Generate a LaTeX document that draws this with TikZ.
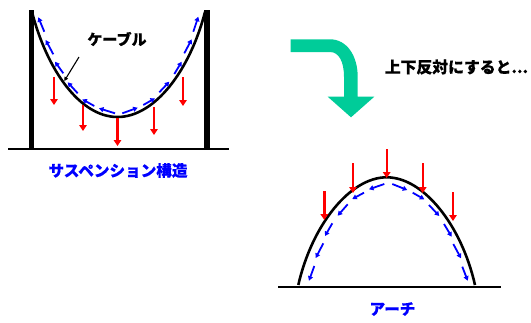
\documentclass[tikz,border=0pt]{standalone}
\usepackage{fontspec}
\usepackage{xcolor}
\usetikzlibrary{arrows.meta}
\newfontfamily\jpfont[BoldFeatures={FakeBold=0.4}]{Noto Sans CJK JP}
\definecolor{turngreen}{HTML}{00CC99}
\begin{document}
\begin{tikzpicture}[x=1pt, y=-1pt,
  cable/.style={line width=2.6pt},
  post/.style={line width=5.5pt},
  ground/.style={line width=2.8pt},
  load/.style={red, line width=2.4pt, -{Triangle[length=6pt,width=7.5pt]}},
  flow/.style={blue, line width=1.8pt, -{Triangle[length=4.5pt,width=5pt]}},
  title/.style={text=blue, font=\jpfont\bfseries\fontsize{15.6}{17}\selectfont, inner sep=0pt},
  note/.style={font=\jpfont\bfseries\fontsize{15}{17}\selectfont, inner sep=0pt}]
\useasboundingbox (0,0) rectangle (531,322);
% suspension
\draw[ground] (8,149) -- (229,149);
\draw[post] (31.5,10) -- (31.5,149);
\draw[post] (207,10) -- (207,149);
\draw[cable] (32,12) .. controls (47,70) and (80,117) .. (117.5,117) .. controls (155,117) and (190,70) .. (205,12);
\draw[load] (54,77) -- (54,105);
\draw[load] (83,105) -- (83,131);
\draw[load] (117.5,118) -- (117.5,146);
\draw[load] (154,107) -- (154,135);
\draw[load] (183,77) -- (183,106);
\draw[flow] (115,113.3) -- (99,108.3);
\draw[flow] (94.3,106) -- (82.3,99.3);
\draw[flow] (77.7,93.3) -- (67.7,82.3);
\draw[flow] (63.3,73.3) -- (55,61.7);
\draw[flow] (53.3,54.3) -- (45.7,40);
\draw[flow] (44.3,31.7) -- (38.3,17.3);
\draw[flow] (122.3,113.3) -- (137.7,107.7);
\draw[flow] (143.3,105) -- (155,98.3);
\draw[flow] (159.3,92.3) -- (169.3,81.7);
\draw[flow] (174.3,74) -- (181.7,61.7);
\draw[flow] (184.3,53.3) -- (191.7,39.3);
\draw[flow] (193.3,31.7) -- (198.3,16.7);
\node[note] (cablelabel) at (117,39) {ケーブル};
\coordinate (leadtop) at (79,57);
\coordinate (leadend) at (64.3,81);
\draw[line width=1.1pt, -{Triangle[length=4pt,width=4pt]}] (leadtop) -- (leadend);
\node[title] (suspension) at (118,170.5) {サスペンション構造};
% turn over
\fill[turngreen] (290.7,39.3) -- (330,39.3) .. controls (347,39.3) and (357.7,56) .. (357.7,76.7) -- (357.7,96.7) -- (374.3,96.7) -- (351,117.3) -- (327.7,96.7) -- (344,96.7) -- (344,76.7) .. controls (344,62) and (339,52) .. (330,52) -- (290.7,52) -- cycle;
\node[note, font=\jpfont\bfseries\fontsize{15.8}{17}\selectfont] (turnlabel) at (456.5,67) {上下反対にすると...};
% arch
\draw[ground] (278,287) -- (501,287);
\draw[cable] (298.3,285) .. controls (312,225) and (350,177.3) .. (386.7,177.3) .. controls (423.4,177.3) and (461.4,225) .. (475,285);
\draw[load] (386.7,149) -- (386.7,178);
\draw[load] (353,163) -- (353,193);
\draw[load] (422.7,163) -- (422.7,193);
\draw[load] (324.3,191) -- (324.3,220);
\draw[load] (453,192) -- (453,221);
\draw[flow] (384.3,184) -- (369,189.3);
\draw[flow] (364,192.7) -- (352.3,199);
\draw[flow] (347.7,204.3) -- (337.7,215.7);
\draw[flow] (332.3,223.3) -- (325,236);
\draw[flow] (323.3,243.3) -- (315.7,258);
\draw[flow] (314.3,266) -- (309,280.7);
\draw[flow] (392.3,184) -- (407.3,190);
\draw[flow] (412.7,192.7) -- (424.3,199.3);
\draw[flow] (429,205) -- (439.3,216);
\draw[flow] (444,224) -- (451.7,236.7);
\draw[flow] (453.3,244) -- (461,258.3);
\draw[flow] (462.3,266.7) -- (467.7,280.7);
\node[title] (arch) at (392.5,309) {アーチ};
\end{tikzpicture}
\end{document}
